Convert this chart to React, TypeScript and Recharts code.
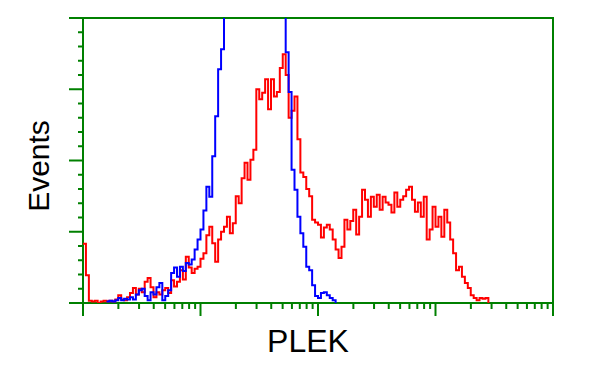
import { LineChart, Line, XAxis, YAxis, ReferenceArea } from "recharts";

// histogram bins, 0.025 decade each, over a 4-decade log axis
const BIN_WIDTH = 0.025;
const DECADES = [0, 1, 2, 3, 4];
const MINOR_MULTS = [2, 3, 4, 5, 6, 7, 8, 9];
const Y_TICKS = [0, 0.2, 0.4, 0.6, 0.8, 1, 1.2, 1.4, 1.6, 1.8, 2, 2.2, 2.4, 2.6, 2.8, 3, 3.2, 3.4, 3.6, 3.8, 4];

// stained sample (red)
const redValues: (number | null)[] = [
    0.83, 0.39, 0.03, 0.02, 0.03, 0, 0.02, 0.03, 0.02, 0.03,
    0.02, 0.05, 0.11, 0.05, 0.04, 0.08, 0.14, 0.21, 0.12, 0.2,
    0.15, 0.3, 0.35, 0.22, 0.08, 0.15, 0.12, 0.18, 0.21, 0.14,
    0.32, 0.23, 0.3, 0.46, 0.33, 0.65, 0.5, 0.42, 0.48, 0.51,
    0.62, 0.7, 0.95, 1.07, 0.84, 0.58, 0.89, 1.0, 1.07, 1.21,
    0.98, 1.12, 1.5, 1.4, 1.75, 1.97, 1.73, 2.01, 2.15, 3.0,
    2.86, 2.95, 3.14, 2.72, 3.14, 2.9, 2.96, 3.3, 3.49, 3.2,
    2.6, 2.7, 2.9, 2.3, 1.83, 1.77, 1.6, 1.5, 1.17, 1.13,
    1.1, 0.92, 1.06, 1.1, 1.03, 0.89, 0.75, 0.63, 0.79, 1.17,
    1.03, 1.15, 1.31, 0.96, 1.21, 1.59, 1.45, 1.21, 1.49, 1.35,
    1.52, 1.31, 1.49, 1.41, 1.38, 1.27, 1.55, 1.35, 1.45, 1.5,
    1.59, 1.63, 1.45, 1.28, 1.41, 1.21, 1.49, 0.89, 1.03, 1.35,
    1.07, 1.21, 0.93, 1.31, 1.13, 0.89, 0.7, 0.46, 0.51, 0.37,
    0.28, 0.21, 0.11, 0.07, 0.04, 0.07, 0.06, 0.07, 0,
];

// isotype control (blue), off-scale values run past the top of the frame
const blueValues: (number | null)[] = [
    null, null, null, null, null, null, null, null, 0.02, 0.03,
    0.02, 0.04, 0.07, 0.04, 0.06, 0.05, 0.08, 0.05, 0.12, 0.18,
    0.2, 0.1, 0.04, 0.15, 0.12, 0.22, 0.28, 0.04, 0.1, 0.18,
    0.42, 0.5, 0.37, 0.51, 0.45, 0.56, 0.54, 0.61, 0.75, 0.89,
    1.03, 1.3, 1.63, 1.49, 2.06, 2.62, 3.28, 3.56, 5, 5,
    5, 5, 5, 5, 5, 5, 5, 5, 5, 5,
    5, 5, 5, 5, 5, 5, 5, 5, 5, 3.52,
    2.96, 1.87, 1.59, 1.21, 0.98, 0.79, 0.51, 0.46, 0.25, 0.1,
    0.07, 0.14, 0.15, 0.11, 0.07, 0.04, 0,
];

const data = redValues.map((r, i) => ({
    x: i * BIN_WIDTH,
    red: r,
    blue: i < blueValues.length ? blueValues[i] : null,
}));

const xTicks = DECADES.flatMap((d) =>
    d < 4 ? [d, ...MINOR_MULTS.map((m) => d + Math.log10(m))] : [d]
);

const GREEN = "#008000";

const isMajor = (v: number) => Math.abs(v - Math.round(v)) < 1e-6;

type TickProps = { x?: number; y?: number; payload?: { value: number } };

const renderYTick = ({ x, y, payload }: TickProps) => {
    const len = isMajor(payload!.value) ? 14 : 5;
    return <line key={`y-${payload!.value}`} x1={x} x2={x! - len} y1={y} y2={y} stroke={GREEN} strokeWidth={2} />;
};

const renderXTick = ({ x, y, payload }: TickProps) => {
    const len = isMajor(payload!.value) ? 13 : 6;
    return <line key={`x-${payload!.value}`} x1={x} x2={x} y1={y} y2={y! + len} stroke={GREEN} strokeWidth={2} />;
};

export default function App() {
    return (
        <div style={{ position: "relative", width: 592, height: 367, fontFamily: "'Liberation Sans', Arial, sans-serif" }}>
            <LineChart width={592} height={367} data={data} margin={{ top: 10, right: 47, bottom: 71, left: 74 }}>
                <XAxis
                    dataKey="x"
                    type="number"
                    domain={[0, 4]}
                    ticks={xTicks}
                    interval={0}
                    height={1}
                    tickSize={0}
                    tickMargin={0}
                    tickLine={false}
                    axisLine={false}
                    tick={renderXTick}
                />
                <YAxis
                    type="number"
                    domain={[0, 4]}
                    allowDataOverflow
                    ticks={Y_TICKS}
                    interval={0}
                    width={1}
                    tickSize={0}
                    tickMargin={0}
                    tickLine={false}
                    axisLine={false}
                    tick={renderYTick}
                />
                <ReferenceArea x1={0} x2={4} y1={0} y2={4} fill="none" stroke={GREEN} strokeWidth={2} fillOpacity={0} />
                <Line type="stepAfter" dataKey="red" stroke="#ff0000" strokeWidth={2} dot={false} isAnimationActive={false} connectNulls={false} />
                <Line type="stepAfter" dataKey="blue" stroke="#0000ff" strokeWidth={2} dot={false} isAnimationActive={false} connectNulls={false} />
            </LineChart>
            <div
                style={{
                    position: "absolute",
                    left: 31,
                    top: 158,
                    transform: "translate(-50%, -50%) rotate(-90deg)",
                    fontSize: 30,
                    lineHeight: "30px",
                    whiteSpace: "nowrap",
                    color: "#000",
                }}
            >
                Events
            </div>
            <div
                style={{
                    position: "absolute",
                    left: 300,
                    top: 333,
                    transform: "translate(-50%, -50%)",
                    fontSize: 32,
                    lineHeight: "32px",
                    whiteSpace: "nowrap",
                    color: "#000",
                }}
            >
                PLEK
            </div>
        </div>
    );
}
